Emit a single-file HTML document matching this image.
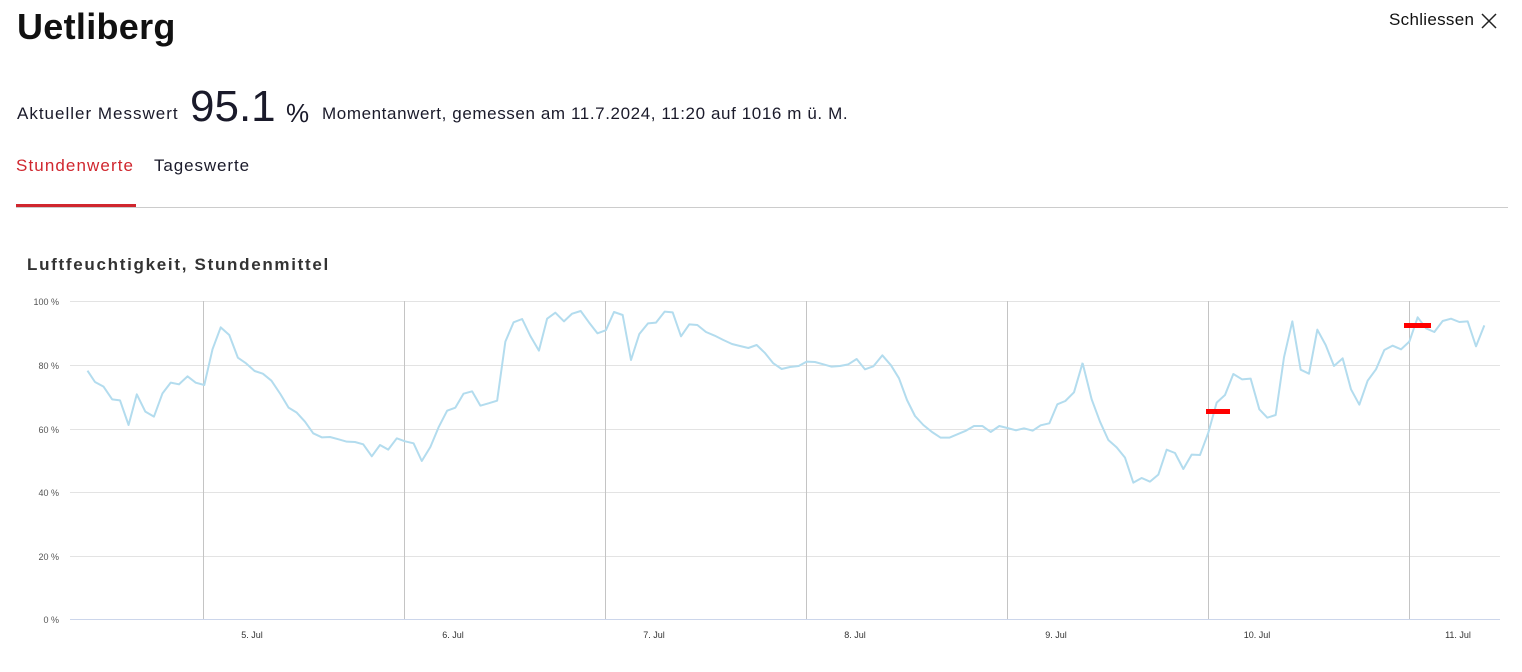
<!DOCTYPE html>
<html><head><meta charset="utf-8"><style>
body{margin:0;width:1522px;height:672px;background:#fff;font-family:"Liberation Sans","DejaVu Sans",sans-serif;color:#111;position:relative;overflow:hidden}
.a{position:absolute;white-space:nowrap}
</style></head><body>
<div class="a" style="left:17px;top:6px;font-size:36px;font-weight:bold;letter-spacing:0.3px">Uetliberg</div>
<div class="a" style="left:1389px;top:10px;font-size:17px;letter-spacing:0.3px">Schliessen</div>
<svg class="a" style="left:1480px;top:12px" width="18" height="18"><path d="M2 2L16 16M16 2L2 16" stroke="#222" stroke-width="1.5"/></svg>
<div class="a" style="left:17px;top:104px;font-size:17px;color:#1a1a2a;letter-spacing:1px">Aktueller Messwert</div>
<div class="a" style="left:190px;top:82px;font-size:44px;color:#1a1a2a">95.1</div>
<div class="a" style="left:286px;top:98px;font-size:26px;color:#1a1a2a">%</div>
<div class="a" style="left:322px;top:104px;font-size:17px;color:#1a1a2a;letter-spacing:0.6px">Momentanwert, gemessen am 11.7.2024, 11:20 auf 1016 m ü. M.</div>
<div class="a" style="left:16px;top:156px;font-size:17px;color:#d0262e;letter-spacing:1.1px">Stundenwerte</div>
<div class="a" style="left:154px;top:156px;font-size:17px;color:#1a1a2a;letter-spacing:0.9px">Tageswerte</div>
<div class="a" style="left:16px;top:207px;width:1492px;height:1px;background:#ccc"></div>
<div class="a" style="left:16px;top:204px;width:120px;height:3px;background:#d0262e"></div>
<div class="a" style="left:27px;top:255px;font-size:17px;font-weight:bold;color:#333;letter-spacing:1.7px">Luftfeuchtigkeit, Stundenmittel</div>
<svg class="a" style="left:0;top:0" width="1522" height="672">
<g stroke="#e3e3e3" stroke-width="1">
<line x1="70" x2="1500" y1="301.5" y2="301.5"/><line x1="70" x2="1500" y1="365.5" y2="365.5"/><line x1="70" x2="1500" y1="429.5" y2="429.5"/><line x1="70" x2="1500" y1="492.5" y2="492.5"/><line x1="70" x2="1500" y1="556.5" y2="556.5"/>
</g>
<line x1="70" x2="1500" y1="619.5" y2="619.5" stroke="#ccd6eb"/>
<g stroke="#c4c4c4" stroke-width="1">
<line x1="203.5" x2="203.5" y1="301" y2="619"/><line x1="404.5" x2="404.5" y1="301" y2="619"/><line x1="605.5" x2="605.5" y1="301" y2="619"/><line x1="806.5" x2="806.5" y1="301" y2="619"/><line x1="1007.5" x2="1007.5" y1="301" y2="619"/><line x1="1208.5" x2="1208.5" y1="301" y2="619"/><line x1="1409.5" x2="1409.5" y1="301" y2="619"/>
</g>
<g font-size="9" fill="#555" text-anchor="end">
<text x="59" y="305">100 %</text><text x="59" y="369">80 %</text><text x="59" y="433">60 %</text><text x="59" y="496">40 %</text><text x="59" y="560">20 %</text><text x="59" y="623">0 %</text>
</g>
<g font-size="9" fill="#333" text-anchor="middle">
<text x="252" y="638">5. Jul</text><text x="453" y="638">6. Jul</text><text x="654" y="638">7. Jul</text><text x="855" y="638">8. Jul</text><text x="1056" y="638">9. Jul</text><text x="1257" y="638">10. Jul</text><text x="1458" y="638">11. Jul</text>
</g>
<g fill="none" stroke="#b3dcee" stroke-width="2" stroke-linejoin="round">
<polyline vector-effect="non-scaling-stroke" transform="translate(60,290) scale(0.35714,0.33333)" points="77,242 98,276 122,290 146,328 168,331 192,405 215,313 239,365 263,380 287,310 310,278 333,283 357,259 380,278 404,285 427,178 450,112 474,135 498,203 521,220 545,243 568,251 592,272 617,312 640,353 663,368 686,395 709,430 733,442 756,441 780,448 803,455 826,456 849,463 873,499 896,465 919,479 943,445 966,454 990,460 1013,513 1037,471 1060,412 1084,362 1107,353 1130,311 1154,304 1177,347 1200,340 1224,332 1247,155 1270,97 1294,87 1317,138 1341,182 1364,86 1387,68 1411,94 1434,71 1458,63 1481,97 1505,130 1528,121"/>
<polyline vector-effect="non-scaling-stroke" transform="translate(600,290) scale(0.33333)" points="17,122 42,66 68,75 93,210 118,132 144,100 168,98 194,65 218,67 243,139 268,103 292,105 318,126 344,137 370,150 396,162 420,168 445,174 470,165 494,188 520,220 545,237 570,231 596,228 620,215 645,216 670,223 695,230 720,228 745,223 770,207 795,238 820,229 847,196 873,226 897,265 921,330 945,378 970,405 996,426 1022,443 1048,443 1072,433 1098,422 1122,408 1147,408 1172,426 1198,408 1222,414 1248,421 1272,415 1298,422 1322,406 1348,400 1372,343 1396,333 1422,307 1448,218"/>
<polyline vector-effect="non-scaling-stroke" transform="translate(1080,290) scale(0.33333)" points="8,220 35,328 60,395 85,450 110,472 135,503 160,578 185,564 210,575 235,554 260,479 285,489 310,537 335,494 360,495 385,428 410,338 435,315 460,252 486,268 512,266 538,358 562,383 587,375 612,202 637,94 662,239 687,251 712,119 737,165 762,228 788,205 813,298 838,344 863,272 888,238 913,180 938,167 963,178 988,155 1013,82 1038,115 1063,126 1088,93 1113,86 1138,96 1163,94 1188,169 1213,106"/>
</g>
<rect x="1206" y="409" width="24" height="5" fill="#f00"/>
<rect x="1404" y="323" width="27" height="5" fill="#f00"/>
</svg>
</body></html>
